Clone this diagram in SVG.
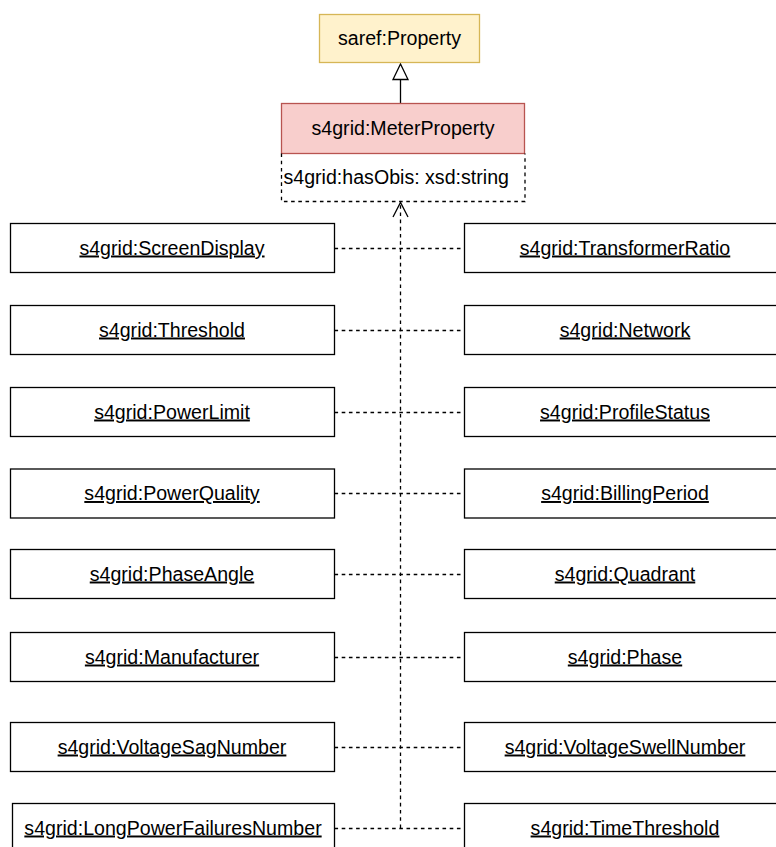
<svg xmlns="http://www.w3.org/2000/svg" width="776" height="847" viewBox="0 0 776 847">
<style>
text{font-family:"Liberation Sans",Arial,sans-serif;font-size:19.6px;fill:#000}
.c{text-anchor:middle}
.u{text-decoration:underline}
.box{fill:#fff;stroke:#000;stroke-width:1.3}
.dash{fill:none;stroke:#000;stroke-width:1.3;stroke-dasharray:3.6 3.6}
</style>
<rect width="776" height="847" fill="#fff"/>
<g id="connectors">
<line class="dash" x1="400.5" y1="828" x2="400.5" y2="203"/>
<polyline points="393,217 400.5,202.5 408,217" fill="none" stroke="#000" stroke-width="1.3"/>
<line x1="400.5" y1="103.5" x2="400.5" y2="80" stroke="#000" stroke-width="1.3"/>
<polygon points="400.5,64 408,79.5 393,79.5" fill="#fff" stroke="#000" stroke-width="1.3"/>
<line class="dash" x1="334.5" y1="248.5" x2="464.5" y2="248.5"/>
<line class="dash" x1="334.5" y1="330.5" x2="464.5" y2="330.5"/>
<line class="dash" x1="334.5" y1="412.5" x2="464.5" y2="412.5"/>
<line class="dash" x1="334.5" y1="493.5" x2="464.5" y2="493.5"/>
<line class="dash" x1="334.5" y1="574.5" x2="464.5" y2="574.5"/>
<line class="dash" x1="334.5" y1="657.5" x2="464.5" y2="657.5"/>
<line class="dash" x1="334.5" y1="747.5" x2="464.5" y2="747.5"/>
<line class="dash" x1="334.5" y1="828.5" x2="464.5" y2="828.5"/>
</g>
<g id="saref-property">
<rect x="319.5" y="14.5" width="160" height="48" fill="#fff2cc" stroke="#d6b656" stroke-width="1.3"/>
<text class="c" x="399.5" y="45">saref:Property</text>
</g>
<g id="meter-property">
<rect x="281.5" y="103.5" width="243" height="50" fill="#f8cecc" stroke="#b85450" stroke-width="1.3"/>
<text class="c" x="403" y="134.5">s4grid:MeterProperty</text>
<path d="M281.5,153.5 V201.5 H525 V153.5" fill="none" stroke="#000" stroke-width="1.3" stroke-dasharray="3.6 3.6"/>
<text x="283.5" y="183.5">s4grid:hasObis: xsd:string</text>
</g>
<g id="screen-display"><rect class="box" x="10.5" y="223.5" width="324" height="49"/><text class="c u" x="172" y="254.5">s4grid:ScreenDisplay</text></g>
<g id="transformer-ratio"><rect class="box" x="464.5" y="223.5" width="321" height="49"/><text class="c u" x="625" y="254.5">s4grid:TransformerRatio</text></g>
<g id="threshold"><rect class="box" x="10.5" y="305.5" width="324" height="49"/><text class="c u" x="172" y="336.5">s4grid:Threshold</text></g>
<g id="network"><rect class="box" x="464.5" y="305.5" width="321" height="49"/><text class="c u" x="625" y="336.5">s4grid:Network</text></g>
<g id="power-limit"><rect class="box" x="10.5" y="387.5" width="324" height="49"/><text class="c u" x="172" y="418.5">s4grid:PowerLimit</text></g>
<g id="profile-status"><rect class="box" x="464.5" y="387.5" width="321" height="49"/><text class="c u" x="625" y="418.5">s4grid:ProfileStatus</text></g>
<g id="power-quality"><rect class="box" x="10.5" y="469" width="324" height="49"/><text class="c u" x="172" y="500">s4grid:PowerQuality</text></g>
<g id="billing-period"><rect class="box" x="464.5" y="469" width="321" height="49"/><text class="c u" x="625" y="500">s4grid:BillingPeriod</text></g>
<g id="phase-angle"><rect class="box" x="10.5" y="549.5" width="324" height="49"/><text class="c u" x="172" y="580.5">s4grid:PhaseAngle</text></g>
<g id="quadrant"><rect class="box" x="464.5" y="549.5" width="321" height="49"/><text class="c u" x="625" y="580.5">s4grid:Quadrant</text></g>
<g id="manufacturer"><rect class="box" x="10.5" y="632.5" width="324" height="49"/><text class="c u" x="172" y="663.5">s4grid:Manufacturer</text></g>
<g id="phase"><rect class="box" x="464.5" y="632.5" width="321" height="49"/><text class="c u" x="625" y="663.5">s4grid:Phase</text></g>
<g id="voltage-sag-number"><rect class="box" x="10.5" y="722.5" width="324" height="49"/><text class="c u" x="172" y="753.5">s4grid:VoltageSagNumber</text></g>
<g id="voltage-swell-number"><rect class="box" x="464.5" y="722.5" width="321" height="49"/><text class="c u" x="625" y="753.5">s4grid:VoltageSwellNumber</text></g>
<g id="long-power-failures-number"><rect class="box" x="12.5" y="803.5" width="322" height="49"/><text class="c u" x="173" y="834.5">s4grid:LongPowerFailuresNumber</text></g>
<g id="time-threshold"><rect class="box" x="464.5" y="803.5" width="321" height="49"/><text class="c u" x="625" y="834.5">s4grid:TimeThreshold</text></g>
</svg>
